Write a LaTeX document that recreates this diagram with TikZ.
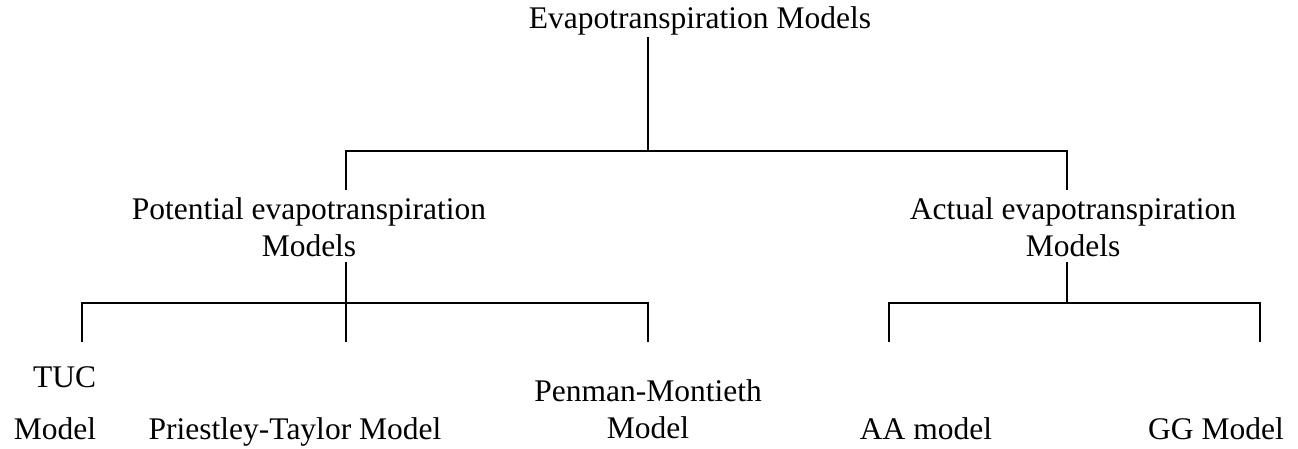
\documentclass[tikz,border=0pt]{standalone}
\usepackage{fontspec}
\setmainfont{Liberation Serif}
\begin{document}
\begin{tikzpicture}[x=1pt,y=-1pt,
  lbl/.style={font=\fontsize{31.5}{37}\selectfont, inner sep=0pt, anchor=base, align=center},
  conn/.style={line width=2.6pt, line cap=rect}]
\useasboundingbox (0,0) rectangle (1298,449);
% labels (base anchor = baseline of the last line)
\node[lbl] (root) at (700,29) {Evapotranspiration Models};
\node[lbl] (pot) at (309,256) {Potential evapotranspiration\\Models};
\node[lbl] (act) at (1073,256) {Actual evapotranspiration\\Models};
\node[lbl, align=right] (tuc) at (55,439) {TUC\\[15pt]Model};
\node[lbl] (pt) at (295,439) {Priestley-Taylor Model};
\node[lbl] (pm) at (648,438) {Penman-Montieth\\Model};
\node[lbl] (aa) at (926,439) {AA model};
\node[lbl] (gg) at (1216,439) {GG Model};
% junction points
\coordinate (r0) at (648,38);
\coordinate (j0) at (648,151);
\coordinate (pl) at (346,151);
\coordinate (pr) at (1067,151);
\coordinate (p1) at (346,189);
\coordinate (a1) at (1067,189);
\coordinate (p2) at (346,263);
\coordinate (jp) at (346,303);
\coordinate (tl) at (82,303);
\coordinate (tr) at (648,303);
\coordinate (t1) at (82,341);
\coordinate (t2) at (346,341);
\coordinate (t3) at (648,341);
\coordinate (a2) at (1067,263);
\coordinate (ja) at (1067,303);
\coordinate (al) at (889,303);
\coordinate (ar) at (1260,303);
\coordinate (b1) at (889,341);
\coordinate (b2) at (1260,341);
% connectors
\draw[conn] (r0) -- (j0);
\draw[conn] (p1) -- (pl) -- (pr) -- (a1);
\draw[conn] (p2) -- (t2);
\draw[conn] (t1) -- (tl) -- (tr) -- (t3);
\draw[conn] (a2) -- (ja);
\draw[conn] (b1) -- (al) -- (ar) -- (b2);
\end{tikzpicture}
\end{document}
